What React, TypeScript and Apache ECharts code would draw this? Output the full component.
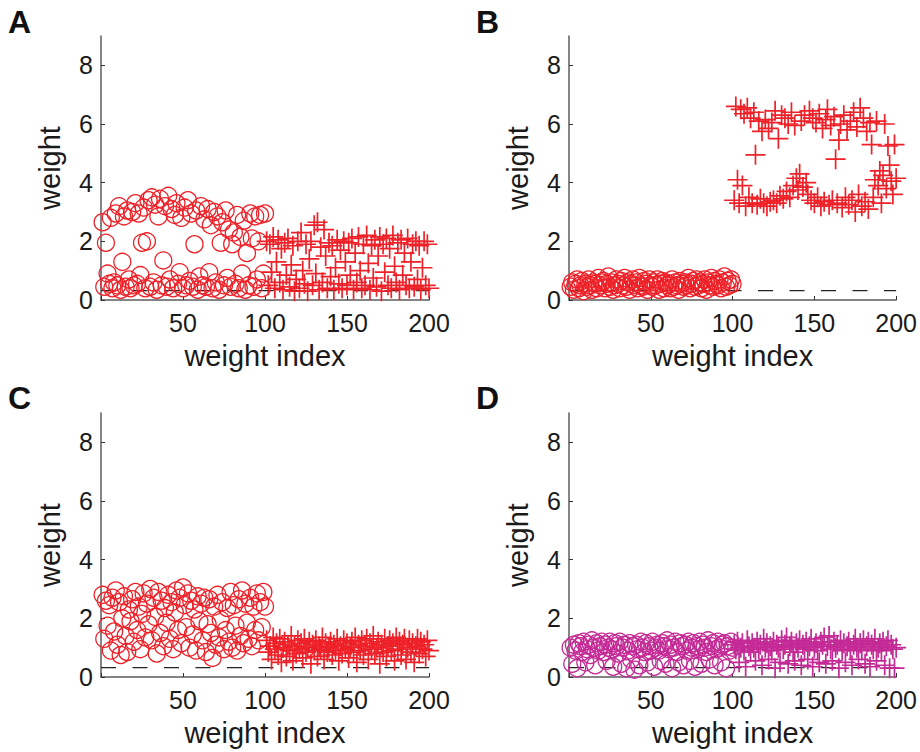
import React, { useEffect, useRef } from "react";
import * as echarts from "echarts";

// ---------- data ----------
const xTicks = [50, 100, 150, 200];
const yTicks = [0, 2, 4, 6, 8];
const thresholdLevel = 0.32;

// Panel A
const aCircles = [
  2.65, 0.45, 1.95, 0.9, 0.55, 2.8, 0.4, 0.6, 2.95, 0.5,
  3.2, 0.35, 1.3, 2.85, 0.45, 3.05, 0.7, 0.4, 3.0, 0.5,
  3.3, 0.55, 2.95, 0.85, 1.95, 3.15, 0.4, 2.0, 3.4, 0.45,
  3.5, 0.6, 3.25, 0.35, 2.85, 3.45, 0.5, 1.35, 3.2, 0.45,
  3.55, 0.7, 3.1, 0.4, 2.9, 3.3, 0.55, 0.95, 2.8, 0.4,
  3.15, 0.5, 3.4, 0.65, 2.95, 0.45, 1.9, 3.05, 0.35, 0.8,
  3.2, 0.5, 2.75, 0.45, 3.1, 0.95, 2.55, 0.4, 3.0, 0.6,
  2.85, 0.35, 1.95, 2.65, 0.5, 3.05, 0.75, 2.4, 0.45, 1.9,
  2.3, 0.55, 2.9, 0.4, 2.15, 0.9, 2.7, 0.35, 1.6, 0.5,
  2.95, 2.1, 0.45, 2.85, 0.7, 2.0, 2.9, 0.4, 0.9, 2.95,
];
const aPluses = [
  2.0, 0.5, 1.9, 0.95, 2.15, 0.4, 1.3, 2.05, 0.6, 1.75,
  0.35, 1.95, 0.85, 2.1, 0.45, 1.2, 1.85, 0.3, 0.7, 2.0,
  0.4, 2.3, 1.0, 0.55, 1.9, 0.3, 1.4, 2.0, 0.5, 2.55,
  0.9, 2.65, 0.35, 1.8, 0.6, 2.4, 1.5, 0.4, 1.95, 0.8,
  1.85, 0.35, 1.1, 2.05, 0.55, 1.7, 0.4, 2.0, 1.3, 0.5,
  1.95, 0.85, 2.1, 0.35, 1.6, 0.6, 2.15, 1.0, 0.4, 1.9,
  0.5, 2.2, 1.25, 0.35, 1.85, 0.75, 2.05, 0.45, 1.5, 2.15,
  0.3, 1.9, 0.95, 2.1, 0.5, 1.75, 0.4, 2.2, 1.15, 0.6,
  1.95, 0.35, 2.05, 0.85, 1.6, 0.5, 2.1, 0.4, 1.3, 1.9,
  0.45, 2.0, 0.7, 1.85, 0.35, 1.1, 2.0, 0.5, 1.9, 0.4,
];

// Panel B
const bCircles = [
  0.45, 0.6, 0.35, 0.55, 0.7, 0.4, 0.5, 0.65, 0.3, 0.55,
  0.45, 0.7, 0.5, 0.35, 0.6, 0.55, 0.4, 0.75, 0.5, 0.6,
  0.65, 0.4, 0.55, 0.8, 0.45, 0.6, 0.35, 0.5, 0.7, 0.55,
  0.4, 0.65, 0.5, 0.75, 0.45, 0.6, 0.35, 0.55, 0.7, 0.5,
  0.6, 0.4, 0.75, 0.5, 0.45, 0.65, 0.55, 0.35, 0.7, 0.5,
  0.45, 0.6, 0.5, 0.7, 0.35, 0.55, 0.65, 0.4, 0.6, 0.5,
  0.55, 0.4, 0.7, 0.45, 0.6, 0.5, 0.35, 0.65, 0.55, 0.45,
  0.6, 0.5, 0.75, 0.4, 0.55, 0.65, 0.45, 0.7, 0.5, 0.6,
  0.4, 0.55, 0.7, 0.35, 0.6, 0.5, 0.75, 0.45, 0.65, 0.55,
  0.5, 0.7, 0.4, 0.6, 0.8, 0.45, 0.65, 0.5, 0.7, 0.55,
];
const bPluses = [
  3.4, 6.6, 4.1, 3.3, 6.5, 3.9, 6.35, 3.2, 6.55, 3.5,
  6.2, 3.3, 6.4, 4.95, 3.25, 6.1, 3.45, 5.75, 3.3, 6.15,
  3.2, 5.85, 3.35, 6.05, 3.4, 6.45, 3.3, 5.5, 3.55, 6.3,
  3.45, 6.2, 3.7, 6.0, 3.5, 6.4, 3.9, 5.95, 4.15, 3.75,
  4.3, 6.1, 3.85, 6.3, 4.0, 3.6, 6.45, 3.4, 6.2, 3.3,
  6.05, 3.5, 6.35, 3.2, 5.85, 3.35, 6.15, 6.5, 3.25, 5.95,
  3.4, 6.25, 4.8, 3.3, 5.45, 6.0, 3.15, 6.3, 3.5, 5.8,
  3.25, 6.1, 3.4, 6.4, 3.0, 5.9, 3.6, 6.55, 3.2, 6.2,
  3.35, 5.75, 3.1, 6.05, 5.3, 3.5, 4.1, 6.1, 3.9, 4.4,
  3.3, 4.25, 6.0, 3.8, 5.25, 4.6, 4.05, 3.6, 5.3, 4.15,
];

// Panel C
const cCircles = [
  2.8, 1.3, 2.6, 1.75, 2.45, 0.9, 2.7, 1.55, 2.95, 1.1,
  2.55, 0.75, 2.0, 2.75, 1.4, 0.85, 2.3, 1.9, 2.65, 1.2,
  2.9, 1.6, 2.4, 0.95, 2.15, 2.85, 1.35, 2.5, 1.8, 3.0,
  1.25, 2.7, 2.05, 0.8, 2.9, 1.5, 2.6, 1.05, 2.35, 1.85,
  2.8, 1.3, 2.55, 0.95, 2.2, 2.95, 1.6, 2.7, 1.15, 3.05,
  2.45, 1.7, 2.85, 1.0, 2.6, 1.45, 2.3, 0.9, 2.75, 1.9,
  2.5, 1.25, 2.7, 0.85, 1.8, 2.65, 1.5, 0.65, 2.4, 1.1,
  2.8, 1.35, 1.95, 2.55, 0.95, 1.6, 2.35, 1.2, 2.9, 1.0,
  2.45, 1.75, 0.9, 2.65, 1.4, 2.95, 1.15, 2.5, 1.85, 1.3,
  2.7, 1.05, 2.4, 1.6, 2.85, 1.25, 2.55, 1.7, 2.9, 2.4,
];
const cPluses = [
  1.25, 0.85, 1.05, 0.6, 1.35, 0.95, 1.15, 0.75, 1.3, 0.5,
  1.0, 1.2, 0.7, 1.1, 0.9, 1.4, 0.55, 1.05, 0.8, 1.25,
  0.95, 1.15, 0.65, 1.3, 0.85, 1.0, 1.2, 0.45, 1.1, 0.9,
  1.25, 0.7, 1.05, 0.95, 1.35, 0.6, 1.15, 0.85, 1.0, 1.2,
  0.75, 1.1, 0.9, 1.3, 0.55, 1.05, 0.8, 1.25, 0.95, 1.15,
  0.65, 1.0, 1.2, 0.85, 1.35, 0.5, 1.1, 0.9, 1.25, 0.75,
  1.05, 1.3, 0.6, 1.15, 0.95, 1.4, 0.8, 1.0, 1.2, 0.45,
  1.1, 0.85, 1.3, 0.7, 1.05, 1.25, 0.9, 1.15, 0.55, 1.35,
  0.95, 1.2, 0.75, 1.1, 1.3, 0.6, 1.0, 1.25, 0.85, 1.15,
  0.5, 1.05, 1.3, 0.8, 1.2, 0.95, 1.1, 0.7, 1.25, 0.9,
];

// Panel D
const dCircles = [
  1.0, 0.45, 1.1, 0.9, 0.3, 1.15, 1.05, 0.85, 1.2, 0.5,
  0.95, 1.1, 0.75, 1.25, 1.0, 0.4, 1.15, 0.9, 1.05, 1.2,
  0.85, 1.1, 0.55, 1.0, 1.2, 0.95, 0.35, 1.15, 1.05, 0.8,
  1.2, 0.45, 1.0, 1.1, 0.3, 0.9, 1.15, 0.6, 1.05, 0.25,
  1.1, 0.95, 0.4, 1.2, 1.0, 0.85, 1.15, 0.5, 1.05, 0.9,
  1.2, 0.35, 1.0, 1.1, 0.9, 0.55, 1.15, 1.05, 0.45, 1.25,
  0.95, 1.1, 0.3, 1.0, 1.2, 0.85, 0.5, 1.15, 1.05, 0.4,
  1.1, 0.9, 1.2, 0.55, 1.0, 1.15, 0.35, 1.05, 0.95, 1.2,
  0.45, 1.1, 1.0, 0.85, 1.25, 0.6, 1.05, 1.15, 0.4, 0.95,
  1.2, 1.0, 0.5, 1.1, 1.15, 0.3, 1.05, 0.9, 1.2, 1.0,
];
const dPluses = [
  1.1, 0.95, 1.2, 0.5, 1.0, 1.15, 0.9, 0.35, 1.25, 1.05,
  0.85, 1.15, 1.0, 0.55, 1.2, 0.95, 1.1, 0.4, 1.3, 1.0,
  1.15, 0.6, 1.05, 0.9, 1.2, 0.3, 1.1, 1.0, 0.5, 1.25,
  0.95, 1.1, 1.35, 0.45, 1.05, 1.2, 0.85, 0.55, 1.15, 1.0,
  1.25, 0.4, 1.1, 0.95, 1.2, 0.6, 1.05, 1.3, 0.35, 1.0,
  1.15, 0.9, 0.5, 1.2, 1.1, 1.35, 0.45, 1.05, 1.4, 0.95,
  0.55, 1.2, 1.0, 1.1, 0.3, 1.25, 0.9, 1.15, 0.5, 1.05,
  1.2, 0.95, 0.4, 1.1, 1.3, 1.0, 0.6, 1.15, 0.9, 1.25,
  0.45, 1.05, 1.2, 0.35, 1.1, 0.95, 1.3, 0.55, 1.0, 1.15,
  0.9, 1.2, 0.4, 1.05, 1.25, 0.3, 1.1, 0.95, 0.3, 1.0,
];

const RED = "#ee2128";
const MAGENTA = "#c42a96";
const FONT = "'Liberation Sans', Arial, Helvetica, sans-serif";

const panels = [
  { letter: "A", left: 101, top: 36, circles: aCircles, pluses: aPluses, color: RED },
  { letter: "B", left: 569, top: 36, circles: bCircles, pluses: bPluses, color: RED },
  { letter: "C", left: 101, top: 413, circles: cCircles, pluses: cPluses, color: RED },
  { letter: "D", left: 569, top: 413, circles: dCircles, pluses: dPluses, color: MAGENTA },
];

const PLOT_W = 328;
const PLOT_H = 264;
const PLUS_PATH = "path://M9.15,0H10.85V20H9.15ZM0,9.15H20V10.85H0Z";

function buildOption() {
  const grid: any[] = [];
  const xAxis: any[] = [];
  const yAxis: any[] = [];
  const series: any[] = [];
  const graphic: any[] = [];

  panels.forEach((p, i) => {
    grid.push({ left: p.left, top: p.top, width: PLOT_W, height: PLOT_H, containLabel: false });
    xAxis.push({
      gridIndex: i,
      type: "value",
      min: 0,
      max: 200,
      interval: 50,
      splitLine: { show: false },
      axisLine: { show: true, onZero: false, lineStyle: { color: "#5c5c5c", width: 1.5 } },
      axisTick: { show: true, inside: true, length: 4, lineStyle: { color: "#333", width: 1 }, customValues: [0, ...xTicks] },
      axisLabel: { customValues: xTicks, fontSize: 25, color: "#1a1a1a", margin: 10, fontFamily: FONT },
      name: "weight index",
      nameLocation: "middle",
      nameGap: 41,
      nameTextStyle: { fontSize: 29, color: "#1a1a1a", fontFamily: FONT },
    });
    yAxis.push({
      gridIndex: i,
      type: "value",
      min: 0,
      max: 9,
      interval: 1,
      splitLine: { show: false },
      axisLine: { show: true, onZero: false, lineStyle: { color: "#5c5c5c", width: 1.5 } },
      axisTick: { show: true, inside: true, length: 4, lineStyle: { color: "#333", width: 1 }, customValues: yTicks },
      axisLabel: { customValues: yTicks, fontSize: 25, color: "#1a1a1a", margin: 8, fontFamily: FONT },
      name: "weight",
      nameLocation: "middle",
      nameGap: 37,
      nameTextStyle: { fontSize: 29, color: "#1a1a1a", fontFamily: FONT },
    });

    series.push({
      type: "line",
      xAxisIndex: i,
      yAxisIndex: i,
      data: [
        [0, thresholdLevel],
        [200, thresholdLevel],
      ],
      symbol: "none",
      silent: true,
      z: 1,
      lineStyle: { color: "#222", width: 1.4, type: [15, 16.5] },
    });
    series.push({
      type: "scatter",
      xAxisIndex: i,
      yAxisIndex: i,
      data: p.circles.map((v, k) => [k + 1, v]),
      symbol: "circle",
      symbolSize: 17,
      z: 2,
      itemStyle: { color: "rgba(0,0,0,0)", borderColor: p.color, borderWidth: 1.3, opacity: 1 },
    });
    series.push({
      type: "scatter",
      xAxisIndex: i,
      yAxisIndex: i,
      data: p.pluses.map((v, k) => [k + 101, v]),
      symbol: PLUS_PATH,
      symbolSize: 20,
      z: 3,
      itemStyle: { color: p.color, opacity: 1 },
    });

    graphic.push({
      type: "text",
      left: p.left - 93,
      top: p.top - (i < 2 ? 30 : 31),
      style: {
        text: p.letter,
        fontSize: 32,
        fontWeight: "bold",
        fontFamily: FONT,
        fill: "#111",
      },
    });
  });

  return {
    animation: false,
    backgroundColor: "#ffffff",
    grid,
    xAxis,
    yAxis,
    series,
    graphic,
  };
}

export default function App() {
  const ref = useRef<HTMLDivElement>(null);
  useEffect(() => {
    if (!ref.current) return;
    const chart = echarts.init(ref.current, undefined, { renderer: "svg" });
    chart.setOption(buildOption());
    return () => chart.dispose();
  }, []);
  return (
    <div
      ref={ref}
      style={{ position: "fixed", left: 0, top: 0, width: 920, height: 752, background: "#fff" }}
    />
  );
}
